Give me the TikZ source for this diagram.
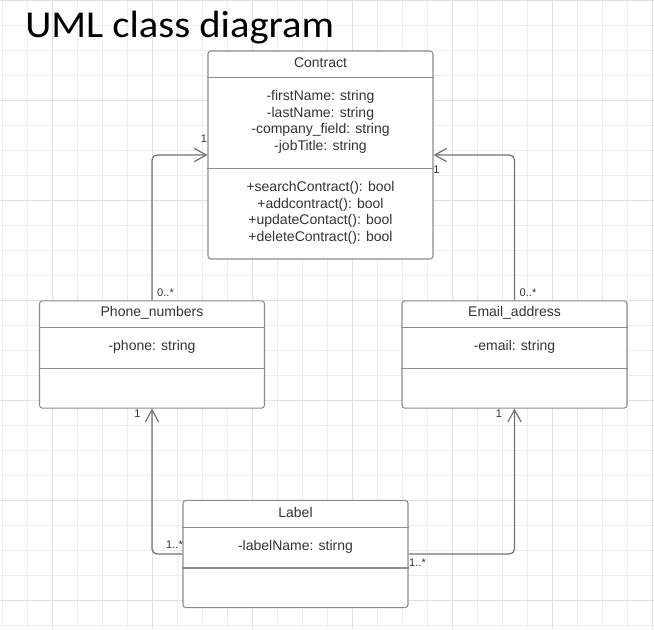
\documentclass[tikz,border=0pt]{standalone}
\usepackage{fontspec}
\setmainfont{Liberation Sans}
\newfontfamily\titlefont[FakeStretch=1.07]{Carlito}
\usepackage{tikz}
\usetikzlibrary{arrows.meta}
\definecolor{gridminor}{HTML}{EEEEEE}
\definecolor{gridmajor}{HTML}{E0E0E0}
\definecolor{boxline}{HTML}{8C8C8C}
\definecolor{wireline}{HTML}{727272}
\definecolor{umltext}{HTML}{333333}
\tikzstyle{gridline}  = [draw=gridminor,line width=0.75pt]
\tikzstyle{gridbold}  = [draw=gridmajor,line width=0.75pt]
\tikzstyle{classbox}  = [draw=boxline,fill=white,line width=0.8pt,rounded corners=2.25pt,inner sep=0pt,minimum width=168.75pt]
\tikzstyle{divider}   = [draw=boxline,line width=0.8pt]
\tikzstyle{classtext} = [text=umltext,align=center,inner sep=0pt,font=\fontsize{10.5}{12.5}\selectfont]
\tikzstyle{mult}      = [text=umltext,inner sep=0pt,font=\fontsize{8.3}{9}\selectfont]
\tikzstyle{assoc}     = [draw=wireline,line width=0.9pt,rounded corners=3.75pt,-{Straight Barb[length=9pt,width=10pt]}]

\begin{document}
\begin{tikzpicture}[x=0.75pt,y=-0.75pt]

\useasboundingbox[fill=white] (0,0) rectangle (654,629);
\foreach \gx in {2.7,27.7,...,652.7} \draw[gridline] (\gx,0) -- (\gx,629);
\foreach \gy in {0.5,25.5,...,625.5} \draw[gridline] (0,\gy) -- (654,\gy);
\foreach \gx in {52.7,152.7,...,652.7} \draw[gridbold] (\gx,0) -- (\gx,629);
\foreach \gy in {0.5,100.5,...,600.5} \draw[gridbold] (0,\gy) -- (654,\gy);

\node[anchor=base west,inner sep=0pt,font=\titlefont\fontsize{28.5}{30}\selectfont] (title) at (25,37.3) {UML class diagram};

% classes
\node[classbox,minimum height=156pt]  (contract) at (320.5,155)   {};
\node[classbox,minimum height=80.5pt] (phone)    at (152,354.5)   {};
\node[classbox,minimum height=80.5pt] (email)    at (514.5,354.5) {};
\node[classbox,minimum height=80.5pt] (label)    at (295.5,554)   {};

\draw[divider] (contract.west |- 0,77.7)  -- (contract.east |- 0,77.7);
\draw[divider] (contract.west |- 0,168.7) -- (contract.east |- 0,168.7);
\draw[divider] (phone.west |- 0,327.7)    -- (phone.east |- 0,327.7);
\draw[divider] (phone.west |- 0,368.3)    -- (phone.east |- 0,368.3);
\draw[divider] (email.west |- 0,327.7)    -- (email.east |- 0,327.7);
\draw[divider] (email.west |- 0,368.3)    -- (email.east |- 0,368.3);
\draw[divider] (label.west |- 0,527.7)    -- (label.east |- 0,527.7);
\draw[divider] (label.west |- 0,568)      -- (label.east |- 0,568);

\node[classtext] (contractname) at (320.5,62.7) {Contract};
\node[classtext] (contractattr) at (320.5,122)  {-firstName: string\\-lastName: string\\-company\_field: string\\-jobTitle: string};
\node[classtext] (contractops)  at (320.5,212.8) {+searchContract(): bool\\+addcontract(): bool\\+updateContact(): bool\\+deleteContract(): bool};
\node[classtext] (phonename)    at (152,313)    {Phone\_numbers};
\node[classtext] (phoneattr)    at (152,346.5)  {-phone: string};
\node[classtext] (emailname)    at (514.5,313)  {Email\_address};
\node[classtext] (emailattr)    at (514.5,346.5) {-email: string};
\node[classtext] (labelname)    at (295.5,512.5) {Label};
\node[classtext] (labelattr)    at (295.5,546.5) {-labelName: stirng};

% associations
\draw[assoc] (phone.north) |- (contract.west);
\draw[assoc] (email.north) |- (contract.east);
\draw[assoc] (label.west)  -| (phone.south);
\draw[assoc] (label.east)  -| (email.south);

\node[mult] (m1) at (204,138.5)   {1};
\node[mult] (m2) at (436.5,169.5) {1};
\node[mult] (m3) at (165.5,292.5) {0..*};
\node[mult] (m4) at (528,292.5)   {0..*};
\node[mult] (m5) at (137.5,414)   {1};
\node[mult] (m6) at (499,414)     {1};
\node[mult] (m7) at (174.5,544.5) {1..*};
\node[mult] (m8) at (417.5,562.5) {1..*};

\end{tikzpicture}
\end{document}
